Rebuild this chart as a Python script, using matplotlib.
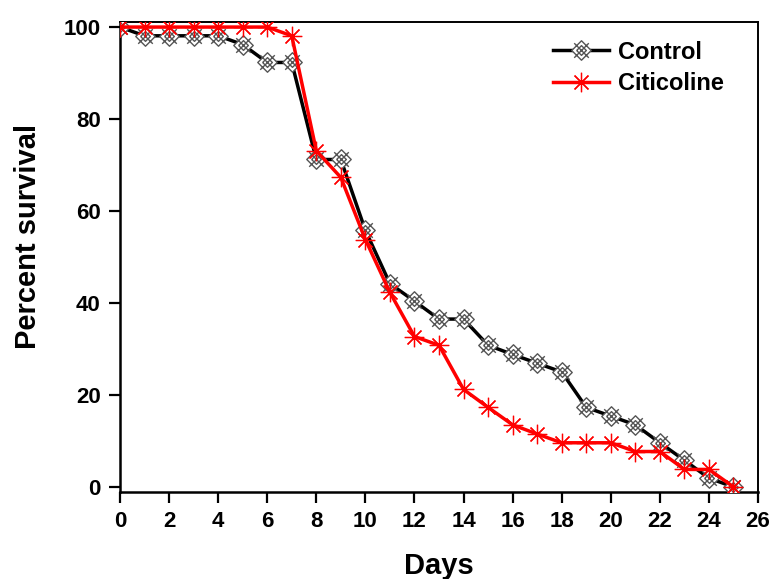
import matplotlib
matplotlib.use("Agg")
import matplotlib.pyplot as plt
from matplotlib.path import Path

plt.rcParams['font.family'] = ['Liberation Sans', 'DejaVu Sans']
plt.rcParams['font.weight'] = 'bold'

days = list(range(0, 26))
control = [100, 98.1, 98.1, 98.1, 98.1, 96.2, 92.3, 92.3, 71.2, 71.2, 55.8, 44.2, 40.4,
           36.5, 36.5, 30.8, 28.8, 26.9, 25.0, 17.3, 15.4, 13.5, 9.6, 5.8, 1.9, 0]
citicoline = [100, 100, 100, 100, 100, 100, 100, 98.1, 73.1, 67.3, 53.8, 42.3, 32.7,
              30.8, 21.2, 17.3, 13.5, 11.5, 9.6, 9.6, 9.6, 7.7, 7.7, 3.8, 3.8, 0]

# crossed diamond marker for the control series
verts = [(0, 1), (1, 0), (0, -1), (-1, 0), (0, 1),
         (-0.75, 0.75), (0.75, -0.75),
         (-0.75, -0.75), (0.75, 0.75),
         (-0.5, 0.0), (0.0, 0.5), (0.5, 0.0), (0.0, -0.5), (-0.5, 0.0)]
codes = [Path.MOVETO, Path.LINETO, Path.LINETO, Path.LINETO, Path.CLOSEPOLY,
         Path.MOVETO, Path.LINETO,
         Path.MOVETO, Path.LINETO,
         Path.MOVETO, Path.LINETO, Path.LINETO, Path.LINETO, Path.LINETO]
cross_diamond = Path(verts, codes)

fig = plt.figure(figsize=(7.72, 5.79), dpi=100)
ax = fig.add_axes([0.1554, 0.1503, 0.8265, 0.8117])

ax.plot(days, control, color='black', lw=2.5, marker=cross_diamond, ms=14,
        mfc='white', mec='#555555', mew=1.0, label='Control', zorder=3)
ax.plot(days, citicoline, color='red', lw=2.5, marker=(8, 2, 0), ms=14,
        mec='red', mew=0.9, label='Citicoline', zorder=4)

ax.set_xlim(0, 26)
ax.set_ylim(-1.1, 101.1)
ax.set_xticks(range(0, 27, 2))
ax.set_yticks(range(0, 101, 20))
ax.tick_params(axis='both', which='major', direction='out', length=8, width=1.6,
               labelsize=16, pad=6)
for lab in ax.get_xticklabels() + ax.get_yticklabels():
    lab.set_fontweight('bold')
for side in ['left', 'bottom']:
    ax.spines[side].set_linewidth(1.8)
for side in ['top', 'right']:
    ax.spines[side].set_linewidth(1.4)

ax.set_xlabel('Days', fontsize=21, fontweight='bold', labelpad=14)
ax.set_ylabel('Percent survival', fontsize=21, fontweight='bold')
ax.yaxis.set_label_coords(-0.122, 0.543)

leg = ax.legend(loc='upper left', bbox_to_anchor=(0.716, 0.930),
                bbox_transform=fig.transFigure, frameon=False, fontsize=17,
                handlelength=2.4, handletextpad=0.35, borderpad=0,
                borderaxespad=0, labelspacing=0.35)
for t in leg.get_texts():
    t.set_fontweight('bold')

fig.savefig('out.png', dpi=100)
